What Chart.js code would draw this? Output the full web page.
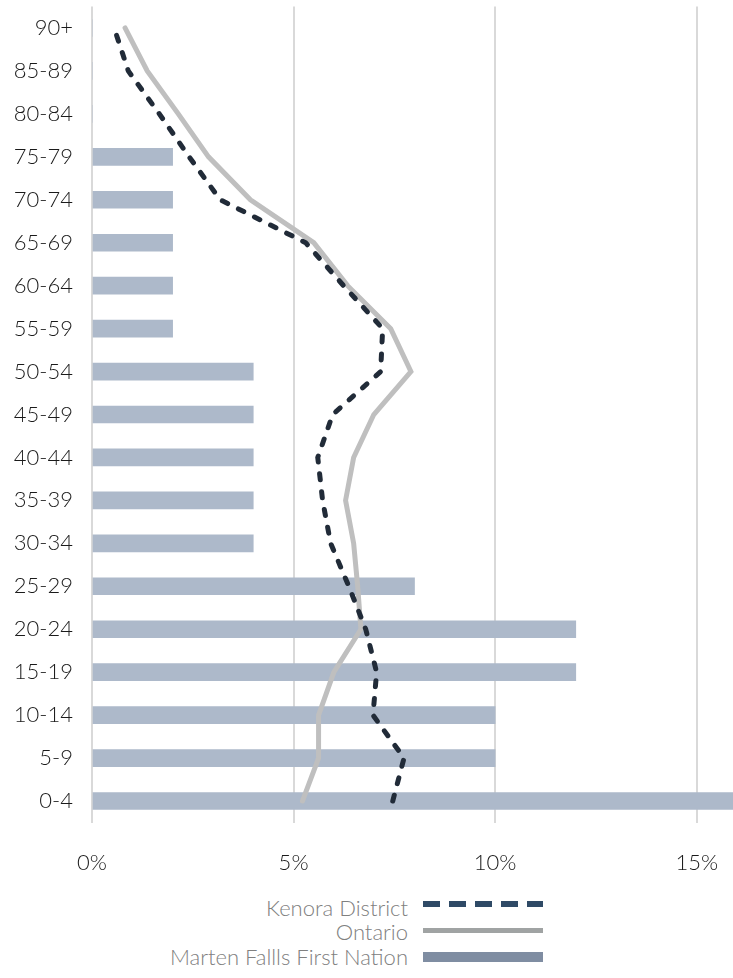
<!DOCTYPE html>
<html>
<head>
<meta charset="utf-8">
<script src="https://cdn.jsdelivr.net/npm/chart.js@4.4.1/dist/chart.umd.min.js"></script>
<style>
  html, body { margin: 0; padding: 0; background: #ffffff; }
  #wrap { position: relative; width: 733px; height: 978px; overflow: hidden; }
  #chart { position: absolute; left: 0; top: 0; }
  .leg { position: absolute; left: 0; width: 733px; height: 26px; font-family: Lato, "DejaVu Sans", sans-serif; font-weight: 300; font-size: 22px; color: #808080; }
  .leg span.t { position: absolute; right: 325px; top: 0; line-height: 26px; white-space: nowrap; }
  .leg span.s { position: absolute; left: 423px; width: 120px; }
</style>
</head>
<body>
<div id="wrap">
  <canvas id="chart" width="733" height="890"></canvas>
  <div class="leg" style="top:895px"><span class="t">Kenora District</span><span class="s" style="top:6px;height:6px;background:repeating-linear-gradient(90deg,#2f4a66 0 17px,transparent 17px 26px);"></span></div>
  <div class="leg" style="top:919px"><span class="t">Ontario</span><span class="s" style="top:8.5px;height:5px;background:#a0a3a3;"></span></div>
  <div class="leg" style="top:944px"><span class="t">Marten Fallls First Nation</span><span class="s" style="top:8px;height:10px;background:#7f8da2;"></span></div>
</div>
<script>
const categories = ["0-4","5-9","10-14","15-19","20-24","25-29","30-34","35-39","40-44","45-49","50-54","55-59","60-64","65-69","70-74","75-79","80-84","85-89","90+"];
const martenFalls = [16, 10, 10, 12, 12, 8, 4, 4, 4, 4, 4, 2, 2, 2, 2, 2, 0, 0, 0];
const kenora = [7.46, 7.74, 6.97, 7.06, 6.79, 6.37, 5.92, 5.72, 5.60, 5.97, 7.16, 7.21, 6.24, 5.30, 3.18, 2.41, 1.67, 0.90, 0.55];
const ontario = [5.22, 5.62, 5.62, 6.00, 6.67, 6.59, 6.49, 6.29, 6.49, 6.99, 7.91, 7.41, 6.34, 5.50, 3.93, 2.89, 2.14, 1.37, 0.82];
const xTicks = [0, 5, 10, 15];

const FONT = "Lato, 'DejaVu Sans', sans-serif";

new Chart(document.getElementById('chart'), {
  type: 'bar',
  data: {
    labels: categories,
    datasets: [
      {
        type: 'line', label: 'Kenora District', data: kenora,
        borderColor: '#212b38', borderWidth: 5, borderDash: [6, 12], borderCapStyle: 'round',
        pointRadius: 0, tension: 0, fill: false, order: 1
      },
      {
        type: 'line', label: 'Ontario', data: ontario,
        borderColor: '#bfbfbf', borderWidth: 5, borderCapStyle: 'round', borderJoinStyle: 'miter',
        pointRadius: 0, tension: 0, fill: false, order: 2
      },
      {
        type: 'bar', label: 'Marten Fallls First Nation', data: martenFalls,
        backgroundColor: '#adb9ca', barThickness: 17, order: 3
      }
    ]
  },
  options: {
    indexAxis: 'y',
    responsive: false,
    animation: false,
    layout: { padding: { top: 6.5, right: 0, bottom: 0, left: 0 } },
    plugins: { legend: { display: false }, tooltip: { enabled: false } },
    scales: {
      x: {
        type: 'linear', min: 0, max: 15.9,
        afterBuildTicks: (s) => { s.ticks = xTicks.map(v => ({ value: v })); },
        afterFit: (s) => { s.height = 67.5; s.paddingLeft = 0; s.paddingRight = 0; },
        grid: { color: '#d9d9d9', lineWidth: 2, drawTicks: false },
        border: { display: false },
        ticks: {
          padding: 27, color: '#1a1a1a', font: { family: FONT, size: 22, weight: '300' },
          callback: (v) => v + '%'
        }
      },
      y: {
        reverse: true,
        afterFit: (s) => { s.width = 92; s.paddingTop = 0; s.paddingBottom = 0; },
        grid: { display: false, drawTicks: false },
        border: { display: false },
        ticks: { padding: 19, color: '#1a1a1a', font: { family: FONT, size: 22, weight: '300' } }
      }
    }
  }
});
</script>
</body>
</html>
